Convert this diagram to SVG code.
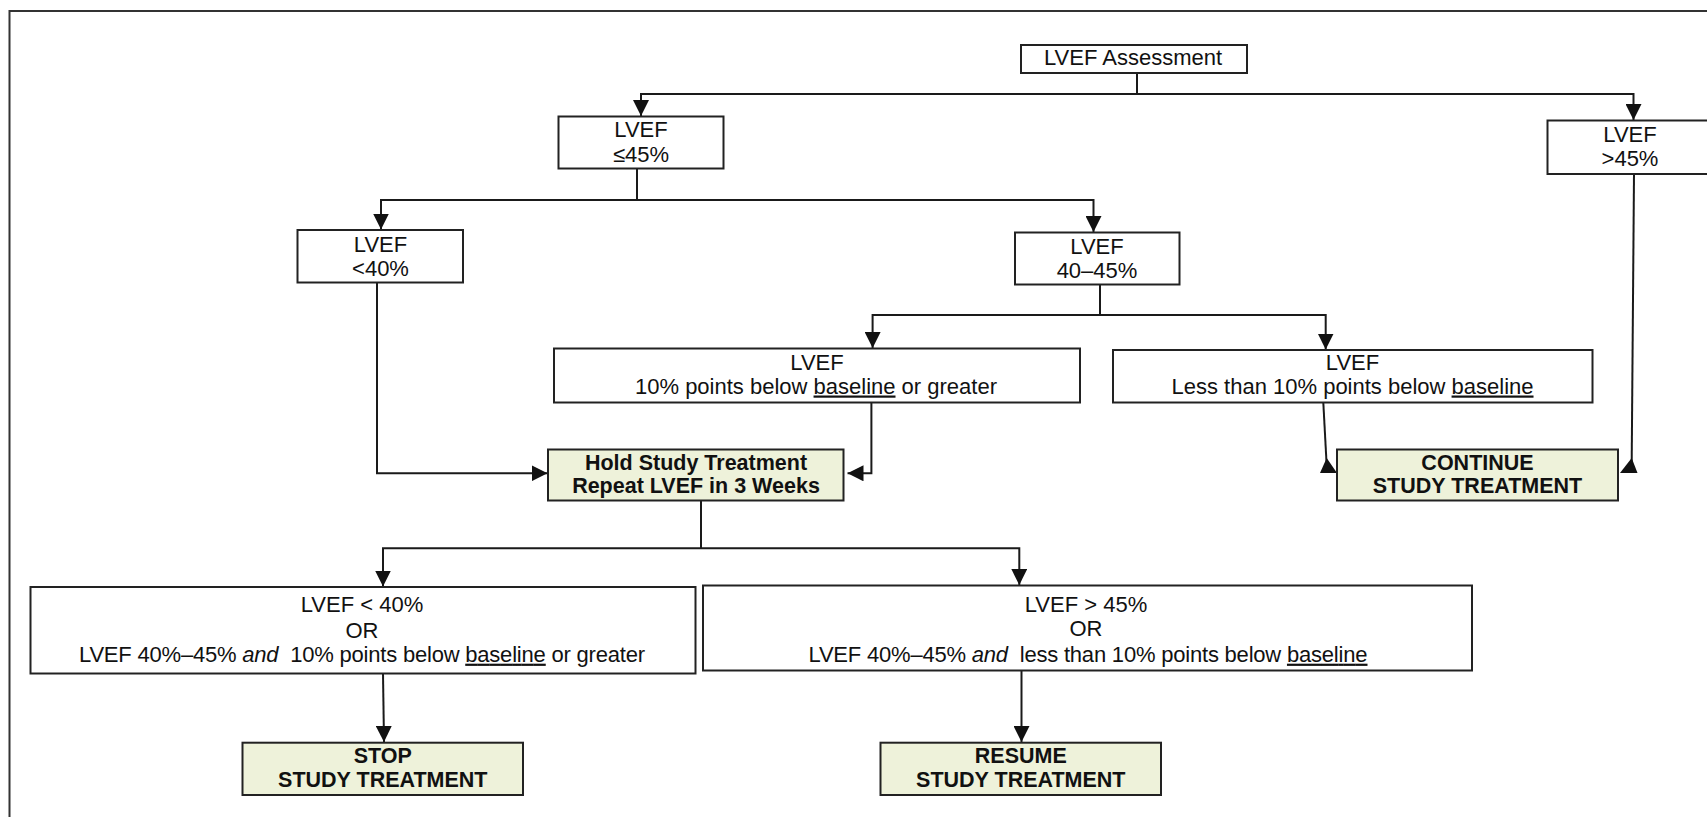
<svg xmlns="http://www.w3.org/2000/svg" width="1707" height="817" viewBox="0 0 1707 817">
<defs>
<style>
.frame{fill:none;stroke:#333;stroke-width:2}
.box{fill:#fff;stroke:#222;stroke-width:2}
.hl{fill:#EEF2DA;stroke:#222;stroke-width:2}
.t{font-family:"Liberation Sans",Arial,sans-serif;font-size:22px;fill:#111;text-anchor:middle}
.b{font-family:"Liberation Sans",Arial,sans-serif;font-size:21.5px;font-weight:bold;fill:#111;text-anchor:middle}
.u{text-decoration:underline;text-decoration-thickness:2.5px}
.c{fill:none;stroke:#1a1a1a;stroke-width:2}
.ah{fill:#111;stroke:none}
</style>
<marker id="arr" markerUnits="userSpaceOnUse" markerWidth="16" markerHeight="16" refX="16" refY="8" orient="auto">
<path d="M0,0 L16,8 L0,16 z" fill="#111"/>
</marker>
</defs>
<rect width="1707" height="817" fill="#fff"/>
<rect class="frame" x="9.5" y="11" width="1720" height="830"/>

<g id="connectors">
<path class="c" d="M1137,73 V94"/>
<path class="c" d="M1137,94 H641 V116" marker-end="url(#arr)"/>
<path class="c" d="M1137,94 H1633.5 V120" marker-end="url(#arr)"/>
<path class="c" d="M637,168.5 V200"/>
<path class="c" d="M637,200 H381 V229.5" marker-end="url(#arr)"/>
<path class="c" d="M637,200 H1093.5 V232" marker-end="url(#arr)"/>
<path class="c" d="M377,282.5 V473.3 H547.5" marker-end="url(#arr)"/>
<path class="c" d="M1100,284.5 V315"/>
<path class="c" d="M1100,315 H872.6 V348" marker-end="url(#arr)"/>
<path class="c" d="M1100,315 H1325.7 V349.5" marker-end="url(#arr)"/>
<path class="c" d="M871.4,402.5 V473.3 H847.5" marker-end="url(#arr)"/>
<path class="c" d="M1323.3,402.5 L1326.5,462"/>
<polygon class="ah" points="1320,473 1337,473 1326.7,458"/>
<path class="c" d="M1634,174 L1631.7,462"/>
<polygon class="ah" points="1620,473 1637.5,473 1631.7,458"/>
<path class="c" d="M701,500.5 V548.3"/>
<path class="c" d="M701,548.3 H383 V586.5" marker-end="url(#arr)"/>
<path class="c" d="M701,548.3 H1019.3 V585" marker-end="url(#arr)"/>
<path class="c" d="M383,673.5 L384,742" marker-end="url(#arr)"/>
<path class="c" d="M1021.5,670.5 V742" marker-end="url(#arr)"/>
</g>

<g id="n_assess">
<rect class="box" x="1021" y="45" width="226" height="28"/>
<text class="t" x="1133" y="65">LVEF Assessment</text>
</g>

<g id="n_le45">
<rect class="box" x="558.5" y="116.5" width="165" height="52"/>
<text class="t" x="641" y="137">LVEF</text>
<text class="t" x="641" y="161.5">≤45%</text>
</g>

<g id="n_gt45">
<rect class="box" x="1547.5" y="120.5" width="200" height="53.5"/>
<text class="t" x="1630" y="141.7">LVEF</text>
<text class="t" x="1630" y="165.7">&gt;45%</text>
</g>

<g id="n_lt40">
<rect class="box" x="297.5" y="230" width="165.5" height="52.5"/>
<text class="t" x="380.5" y="251.7">LVEF</text>
<text class="t" x="380.5" y="276">&lt;40%</text>
</g>

<g id="n_4045">
<rect class="box" x="1015" y="232.5" width="164.5" height="52"/>
<text class="t" x="1097" y="253.5">LVEF</text>
<text class="t" x="1097" y="277.7">40–45%</text>
</g>

<g id="n_10ge">
<rect class="box" x="554" y="348.5" width="526" height="54"/>
<text class="t" x="817" y="370">LVEF</text>
<text class="t" x="816" y="393.5">10% points below <tspan class="u">baseline</tspan> or greater</text>
</g>

<g id="n_lt10">
<rect class="box" x="1113" y="350" width="479.5" height="52.5"/>
<text class="t" x="1352.5" y="370">LVEF</text>
<text class="t" x="1352.5" y="393.5">Less than 10% points below <tspan class="u">baseline</tspan></text>
</g>

<g id="n_hold">
<rect class="hl" x="548" y="449.5" width="295.5" height="51"/>
<text class="b" x="696" y="470">Hold Study Treatment</text>
<text class="b" x="696" y="493.3">Repeat LVEF in 3 Weeks</text>
</g>

<g id="n_continue">
<rect class="hl" x="1337" y="449.5" width="281" height="51"/>
<text class="b" x="1477.5" y="470">CONTINUE</text>
<text class="b" x="1477.5" y="493.3">STUDY TREATMENT</text>
</g>

<g id="n_stopcond">
<rect class="box" x="30.5" y="587" width="665" height="86.5"/>
<text class="t" x="362" y="612.3">LVEF &lt; 40%</text>
<text class="t" x="362" y="637.5">OR</text>
<text class="t" x="362" y="661.7" textLength="566">LVEF 40%–45% <tspan font-style="italic">and</tspan>&#160; 10% points below <tspan class="u">baseline</tspan> or greater</text>
</g>

<g id="n_resumecond">
<rect class="box" x="703" y="585.5" width="769" height="85"/>
<text class="t" x="1086" y="611.7">LVEF &gt; 45%</text>
<text class="t" x="1086" y="635.5">OR</text>
<text class="t" x="1088" y="661.7" textLength="559">LVEF 40%–45% <tspan font-style="italic">and</tspan>&#160; less than 10% points below <tspan class="u">baseline</tspan></text>
</g>

<g id="n_stop">
<rect class="hl" x="242.5" y="742.7" width="280.5" height="52.3"/>
<text class="b" x="382.8" y="763.3">STOP</text>
<text class="b" x="382.8" y="786.7">STUDY TREATMENT</text>
</g>

<g id="n_resume">
<rect class="hl" x="880.5" y="742.7" width="280.5" height="52.3"/>
<text class="b" x="1020.8" y="763.3">RESUME</text>
<text class="b" x="1020.8" y="786.7">STUDY TREATMENT</text>
</g>
</svg>
